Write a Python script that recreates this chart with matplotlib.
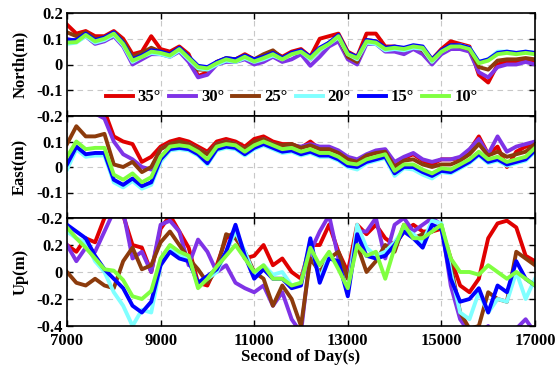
"""Positioning error time series (N/E/U) for several elevation cut-off angles."""
import matplotlib
matplotlib.use("Agg")
import matplotlib.pyplot as plt
import numpy as np

plt.rcParams["font.family"] = ["Liberation Serif", "DejaVu Serif"]
plt.rcParams["font.weight"] = "bold"
plt.rcParams["axes.unicode_minus"] = False

# sample epochs, second of day
sec = np.arange(7000, 17001, 200)

labels = ["35°", "30°", "25°", "20°", "15°", "10°"]
colors = ["#e00000", "#7f33e6", "#8c3b0c", "#80ffff", "#0000ff", "#80ff40"]

north_35 = [0.155, 0.12, 0.13, 0.11, 0.11, 0.13, 0.10, 0.04, 0.05, 0.11, 0.06, 0.05, 0.07, 0.04, -0.045, -0.03, 0.01,
            0.02, 0.02, 0.04, 0.02, 0.03, 0.05, 0.03, 0.05, 0.06, 0.03, 0.10, 0.11, 0.12, 0.05, 0.03, 0.12, 0.12, 0.07,
            0.07, 0.06, 0.07, 0.06, 0.02, 0.06, 0.09, 0.08, 0.07, -0.04, -0.07, 0.0, 0.01, 0.01, 0.02, 0.01]
north_30 = [0.10, 0.09, 0.11, 0.08, 0.09, 0.11, 0.07, 0.0, 0.02, 0.04, 0.04, 0.03, 0.05, 0.01, -0.05, -0.04, 0.0,
            0.01, 0.01, 0.02, 0.0, 0.01, 0.03, 0.01, 0.02, 0.04, -0.005, 0.03, 0.07, 0.09, 0.02, 0.0, 0.08, 0.08, 0.05,
            0.05, 0.04, 0.06, 0.04, 0.0, 0.04, 0.06, 0.06, 0.05, -0.03, -0.05, -0.01, 0.0, 0.0, 0.01, 0.0]
north_25 = [0.125, 0.11, 0.125, 0.10, 0.105, 0.125, 0.09, 0.03, 0.045, 0.065, 0.05, 0.04, 0.065, 0.03, -0.02, -0.02,
            0.01, 0.025, 0.02, 0.035, 0.02, 0.04, 0.055, 0.025, 0.045, 0.055, 0.02, 0.055, 0.085, 0.105, 0.03, 0.01,
            0.095, 0.09, 0.06, 0.065, 0.055, 0.07, 0.055, 0.01, 0.05, 0.075, 0.07, 0.06, -0.01, -0.02, 0.015, 0.02,
            0.02, 0.025, 0.02]
north_20 = [0.08, 0.085, 0.11, 0.085, 0.095, 0.115, 0.075, 0.01, 0.03, 0.045, 0.04, 0.03, 0.055, 0.02, -0.015, -0.02,
            0.0, 0.015, 0.01, 0.025, 0.01, 0.02, 0.035, 0.02, 0.04, 0.05, 0.02, 0.055, 0.08, 0.105, 0.04, 0.02, 0.085,
            0.08, 0.055, 0.06, 0.055, 0.065, 0.06, 0.01, 0.05, 0.07, 0.075, 0.065, 0.01, 0.02, 0.05, 0.05, 0.045, 0.05,
            0.045]
north_15 = [0.095, 0.095, 0.12, 0.095, 0.105, 0.125, 0.085, 0.02, 0.035, 0.055, 0.05, 0.04, 0.065, 0.03, -0.005,
            -0.01, 0.01, 0.025, 0.02, 0.035, 0.02, 0.03, 0.045, 0.025, 0.045, 0.055, 0.03, 0.065, 0.085, 0.115, 0.045,
            0.03, 0.095, 0.09, 0.065, 0.07, 0.065, 0.075, 0.07, 0.02, 0.055, 0.075, 0.075, 0.065, 0.01, 0.02, 0.045,
            0.05, 0.045, 0.05, 0.045]
north_10 = [0.085, 0.087, 0.115, 0.09, 0.10, 0.12, 0.08, 0.015, 0.03, 0.05, 0.045, 0.035, 0.06, 0.025, -0.01, -0.015,
            0.005, 0.02, 0.012, 0.03, 0.012, 0.025, 0.04, 0.02, 0.04, 0.05, 0.025, 0.06, 0.08, 0.11, 0.04, 0.025, 0.09,
            0.085, 0.06, 0.065, 0.06, 0.07, 0.065, 0.015, 0.05, 0.07, 0.07, 0.06, 0.005, 0.015, 0.04, 0.045, 0.04,
            0.045, 0.04]

east_35 = [0.35, 0.33, 0.30, 0.28, 0.22, 0.12, 0.10, 0.09, 0.02, 0.04, 0.08, 0.10, 0.11, 0.10, 0.08, 0.06, 0.10, 0.11,
           0.10, 0.08, 0.11, 0.12, 0.10, 0.09, 0.09, 0.075, 0.10, 0.07, 0.07, 0.06, 0.035, 0.025, 0.045, 0.06, 0.065,
           0.01, 0.035, 0.05, 0.025, 0.01, 0.03, 0.03, 0.035, 0.065, 0.12, 0.05, 0.08, 0.0, 0.06, 0.08, 0.09]
east_30 = [0.30, 0.28, 0.25, 0.21, 0.19, 0.10, 0.05, 0.03, 0.0, -0.01, 0.07, 0.09, 0.095, 0.09, 0.07, 0.05, 0.09, 0.10,
           0.09, 0.07, 0.09, 0.11, 0.09, 0.08, 0.085, 0.08, 0.09, 0.08, 0.08, 0.065, 0.04, 0.03, 0.05, 0.065, 0.07,
           0.02, 0.04, 0.055, 0.03, 0.02, 0.03, 0.03, 0.04, 0.07, 0.11, 0.05, 0.12, 0.06, 0.08, 0.09, 0.10]
east_25 = [0.09, 0.16, 0.12, 0.12, 0.13, 0.01, 0.0, 0.02, -0.02, 0.0, 0.07, 0.09, 0.10, 0.09, 0.07, 0.05, 0.09, 0.10,
           0.09, 0.07, 0.10, 0.11, 0.09, 0.085, 0.09, 0.075, 0.085, 0.07, 0.07, 0.055, 0.03, 0.02, 0.045, 0.055, 0.06,
           0.0, 0.025, 0.03, 0.01, 0.0, 0.01, 0.01, 0.025, 0.05, 0.09, 0.045, 0.06, 0.04, 0.05, 0.06, 0.09]
east_20 = [-0.01, 0.07, 0.04, 0.045, 0.045, -0.06, -0.08, -0.055, -0.085, -0.07, 0.02, 0.065, 0.07, 0.065, 0.045, 0.01,
           0.065, 0.075, 0.07, 0.045, 0.07, 0.085, 0.07, 0.055, 0.06, 0.045, 0.055, 0.04, 0.04, 0.025, 0.0, -0.01,
           0.015, 0.025, 0.035, -0.035, -0.005, -0.01, -0.03, -0.045, -0.02, -0.025, -0.005, 0.015, 0.045, 0.015,
           0.025, 0.005, 0.015, 0.025, 0.06]
east_15 = [0.01, 0.08, 0.05, 0.055, 0.055, -0.05, -0.07, -0.045, -0.075, -0.06, 0.03, 0.07, 0.075, 0.07, 0.05, 0.015,
           0.07, 0.08, 0.075, 0.05, 0.075, 0.09, 0.075, 0.06, 0.065, 0.05, 0.06, 0.045, 0.045, 0.03, 0.005, 0.0, 0.02,
           0.03, 0.04, -0.025, 0.0, 0.0, -0.02, -0.035, -0.015, -0.02, 0.0, 0.02, 0.05, 0.02, 0.03, 0.01, 0.02, 0.03,
           0.065]
east_10 = [0.04, 0.10, 0.07, 0.075, 0.075, -0.03, -0.05, -0.025, -0.06, -0.04, 0.04, 0.08, 0.085, 0.08, 0.06, 0.03,
           0.08, 0.09, 0.085, 0.06, 0.085, 0.10, 0.085, 0.07, 0.075, 0.06, 0.07, 0.055, 0.055, 0.04, 0.015, 0.01, 0.03,
           0.04, 0.05, -0.015, 0.01, 0.01, -0.01, -0.025, -0.005, -0.01, 0.01, 0.03, 0.06, 0.03, 0.04, 0.02, 0.03,
           0.04, 0.075]

up_35 = [0.20, 0.15, 0.25, 0.22, 0.40, 0.45, 0.42, 0.20, 0.18, 0.0, 0.32, 0.42, 0.30, 0.18, -0.08, -0.10, 0.05, 0.25,
         0.30, 0.10, 0.12, 0.20, 0.05, 0.10, 0.0, -0.05, 0.20, 0.20, 0.35, 0.15, 0.0, 0.35, 0.28, 0.35, 0.25, 0.20,
         0.30, 0.35, 0.30, 0.30, 0.32, 0.10, -0.10, -0.15, -0.05, 0.25, 0.36, 0.38, 0.33, 0.12, 0.08]
up_30 = [0.20, 0.08, 0.18, 0.15, 0.30, 0.45, 0.45, 0.10, 0.15, 0.0, 0.35, 0.38, 0.30, 0.05, 0.24, 0.15, 0.0, 0.05,
         -0.08, -0.12, -0.15, -0.10, -0.25, -0.15, -0.35, -0.45, 0.15, 0.30, 0.42, 0.10, -0.05, 0.30, 0.30, 0.40,
         0.10, 0.35, 0.40, 0.30, 0.35, 0.40, 0.35, -0.10, -0.35, -0.45, -0.45, -0.40, -0.50, -0.45, -0.42, -0.35,
         -0.45]
up_25 = [0.0, -0.08, -0.10, -0.05, -0.10, -0.12, 0.08, 0.18, 0.02, 0.05, 0.22, 0.30, 0.20, 0.10, 0.02, -0.08, 0.02,
         0.28, 0.25, 0.15, 0.0, -0.05, -0.25, -0.10, -0.20, -0.40, 0.10, 0.0, 0.10, 0.15, -0.05, 0.20, 0.0, 0.08,
         0.20, 0.15, 0.35, 0.25, 0.28, 0.30, 0.35, 0.05, -0.30, -0.42, -0.40, -0.15, -0.20, -0.22, 0.15, 0.10, 0.05]
up_20 = [0.30, 0.25, 0.22, 0.08, 0.0, -0.15, -0.25, -0.40, -0.28, -0.30, 0.05, 0.18, 0.12, 0.10, -0.10, -0.05, 0.0,
         0.15, 0.30, 0.15, -0.02, 0.05, -0.02, 0.0, -0.10, -0.08, 0.22, -0.05, 0.12, 0.05, -0.15, 0.35, 0.18, 0.12,
         0.15, 0.22, 0.32, 0.28, 0.22, 0.38, 0.36, 0.0, -0.30, -0.35, -0.15, -0.30, -0.20, -0.22, 0.0, -0.20, -0.05]
up_15 = [0.35, 0.30, 0.25, 0.12, 0.02, -0.05, -0.12, -0.25, -0.30, -0.22, 0.05, 0.15, 0.10, 0.08, -0.08, -0.03, 0.02,
         0.15, 0.35, 0.12, -0.05, 0.02, -0.05, -0.05, -0.12, -0.10, 0.25, -0.08, 0.10, 0.08, -0.18, 0.28, 0.12, 0.10,
         0.12, 0.20, 0.30, 0.25, 0.18, 0.35, 0.32, -0.05, -0.22, -0.20, -0.12, -0.30, -0.10, -0.15, 0.08, -0.05,
         -0.10]
up_10 = [0.33, 0.25, 0.18, 0.10, 0.02, 0.01, -0.06, -0.18, -0.20, -0.14, 0.10, 0.20, 0.15, 0.12, -0.12, -0.05, 0.04,
         0.12, 0.20, 0.10, 0.0, 0.05, -0.05, -0.05, -0.10, -0.08, 0.18, 0.05, 0.15, 0.02, -0.12, 0.20, 0.12, 0.15,
         -0.05, 0.18, 0.35, 0.25, 0.25, 0.30, 0.35, 0.10, 0.0, 0.0, -0.02, 0.05, 0.0, -0.05, 0.0, -0.05, -0.10]

panels = [
    ("North(m)", [north_35, north_30, north_25, north_20, north_15, north_10], (-0.2, 0.2),
     [-0.2, -0.1, 0, 0.1, 0.2], ["-0.2", "-0.1", "0", "0.1", "0.2"]),
    ("East(m)", [east_35, east_30, east_25, east_20, east_15, east_10], (-0.2, 0.2),
     [-0.2, -0.1, 0, 0.1, 0.2], ["-0.2", "-0.1", "0", "0.1", ""]),
    ("Up(m)", [up_35, up_30, up_25, up_20, up_15, up_10], (-0.4, 0.4),
     [-0.4, -0.2, 0, 0.2, 0.4], ["-0.4", "-0.2", "0", "0.2", ""]),
]

W, H = 557, 370
boxes = [(13, 116), (116, 218), (218, 326)]  # top/bottom pixel rows of each panel
x0, x1 = 67, 535

fig = plt.figure(figsize=(W / 100, H / 100), dpi=100)
axes = []
for (top, bot), (ylab, series, ylim, yt, ytl) in zip(boxes, panels):
    ax = fig.add_axes([x0 / W, 1 - bot / H, (x1 - x0) / W, (bot - top) / H])
    for vals, c, lab in zip(series, colors, labels):
        ax.plot(sec, vals, color=c, lw=2.8, label=lab)
    ax.set_xlim(7000, 17000)
    ax.set_ylim(*ylim)
    ax.set_yticks(yt)
    ax.set_yticklabels(ytl)
    ax.set_xticks([7000, 9000, 11000, 13000, 15000, 17000])
    ax.grid(True, color="#c8c8c8", linestyle=(0, (5, 4)), lw=0.8)
    ax.set_axisbelow(True)
    ax.tick_params(direction="in", length=4, width=1, top=True, right=True, labelsize=12, pad=3)
    for sp in ax.spines.values():
        sp.set_linewidth(1.2)
    ax.set_ylabel(ylab, fontsize=12, fontweight="bold")
    ax.yaxis.set_label_coords(-0.083, 0.5)
    axes.append(ax)

for ax in axes[:-1]:
    ax.tick_params(labelbottom=False)
axes[-1].set_xticklabels(["7000", "9000", "11000", "13000", "15000", "17000"])
axes[-1].tick_params(axis="x", pad=5)
axes[-1].set_xlabel("Second of Day(s)", fontsize=12, fontweight="bold", labelpad=0)

axes[0].legend(loc="center", bbox_to_anchor=(0.48, 0.18), ncol=6, frameon=False, fontsize=12,
               handlelength=1.6, handletextpad=0.3, columnspacing=0.5, borderaxespad=0)

fig.savefig("out.png", dpi=100)
